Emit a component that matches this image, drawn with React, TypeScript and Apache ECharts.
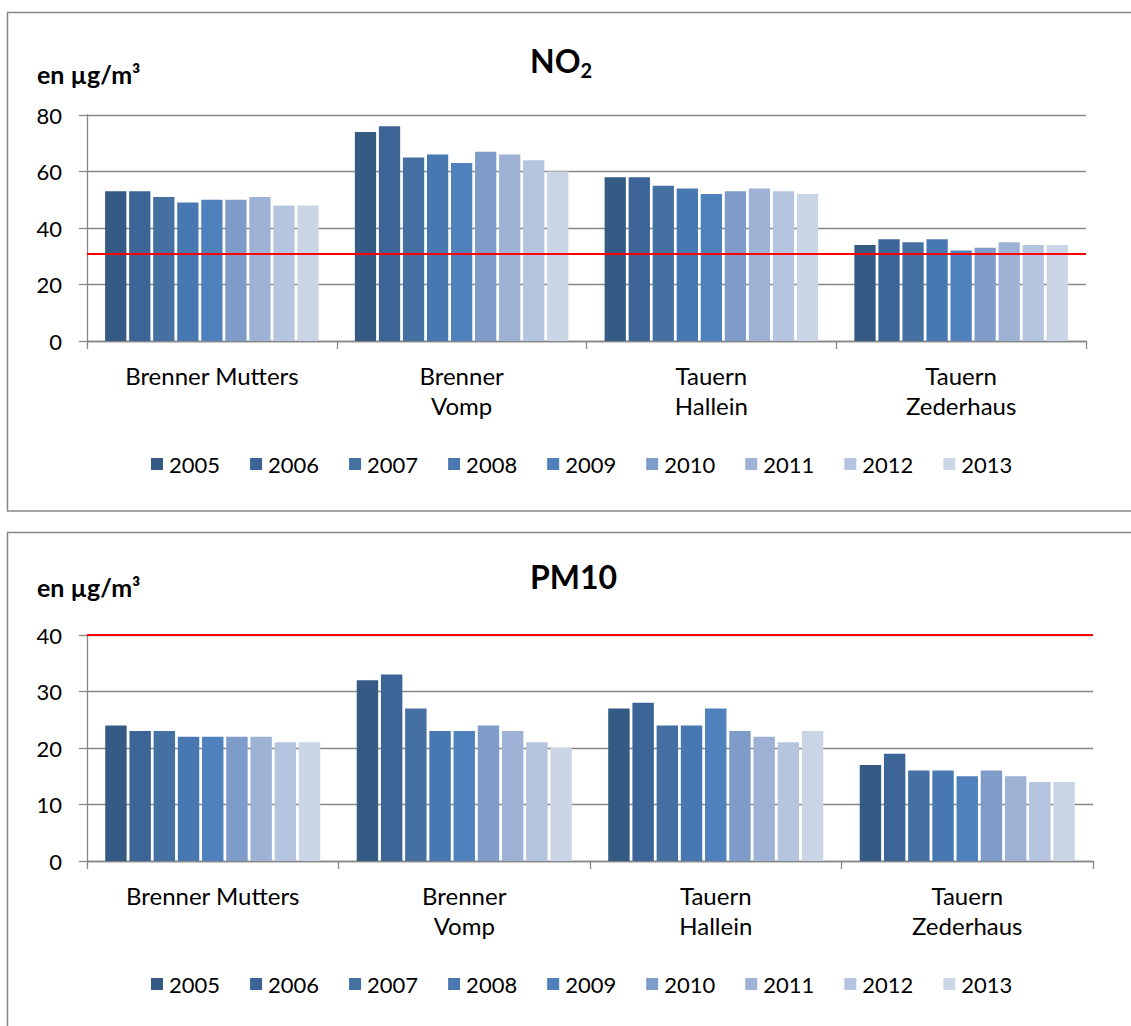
import React, { useEffect, useRef } from "react";
import * as echarts from "echarts";

const categories = ["Brenner Mutters", "Brenner\nVomp", "Tauern\nHallein", "Tauern\nZederhaus"];
const years = ["2005", "2006", "2007", "2008", "2009", "2010", "2011", "2012", "2013"];
const yearColors = ["#355A84", "#3C6496", "#4470A2", "#4878B2", "#4F81BD", "#7F9CC8", "#9DB2D4", "#B5C4DF", "#CAD5E6"];

// NO2 values per category, one value per year (2005..2013)
const no2BrennerMutters = [53, 53, 51, 49, 50, 50, 51, 48, 48];
const no2BrennerVomp = [74, 76, 65, 66, 63, 67, 66, 64, 60];
const no2TauernHallein = [58, 58, 55, 54, 52, 53, 54, 53, 52];
const no2TauernZederhaus = [34, 36, 35, 36, 32, 33, 35, 34, 34];

// PM10 values per category, one value per year (2005..2013)
const pm10BrennerMutters = [24, 23, 23, 22, 22, 22, 22, 21, 21];
const pm10BrennerVomp = [32, 33, 27, 23, 23, 24, 23, 21, 20];
const pm10TauernHallein = [27, 28, 24, 24, 27, 23, 22, 21, 23];
const pm10TauernZederhaus = [17, 19, 16, 16, 15, 16, 15, 14, 14];

const no2Limit = 31;
const pm10Limit = 40;
const no2Ticks = { min: 0, max: 80, interval: 20 };
const pm10Ticks = { min: 0, max: 40, interval: 10 };

const FONT = "Lato, 'Open Sans', sans-serif";
const GRAY = "#868686";

export default function App() {
  const ref = useRef<HTMLDivElement>(null);
  useEffect(() => {
    if (!ref.current) return;
    const chart = echarts.init(ref.current, undefined, { renderer: "svg" });
    const no2Rows = [no2BrennerMutters, no2BrennerVomp, no2TauernHallein, no2TauernZederhaus];
    const pm10Rows = [pm10BrennerMutters, pm10BrennerVomp, pm10TauernHallein, pm10TauernZederhaus];

    const makeX = (gridIndex: number) => ({
      type: "category",
      gridIndex,
      data: categories,
      axisLine: { show: true, lineStyle: { color: GRAY, width: 1.3 } },
      axisTick: { show: true, length: 8, lineStyle: { color: GRAY, width: 1.3 } },
      axisLabel: { color: "#000", fontSize: 24, fontFamily: FONT, margin: 19, lineHeight: 30, interval: 0 },
    });
    const makeY = (gridIndex: number, t: { min: number; max: number; interval: number }) => ({
      type: "value",
      gridIndex,
      min: t.min,
      max: t.max,
      interval: t.interval,
      axisLine: { show: true, lineStyle: { color: GRAY, width: 1.3 } },
      axisTick: { show: true, length: 8, lineStyle: { color: GRAY, width: 1.3 } },
      axisLabel: { color: "#000", fontSize: 22, fontFamily: FONT, margin: 25 },
      splitLine: { show: true, lineStyle: { color: GRAY, width: 1.3 } },
    });

    const series: any[] = [];
    years.forEach((y, i) => {
      series.push({
        name: y,
        type: "bar",
        xAxisIndex: 0,
        yAxisIndex: 0,
        data: no2Rows.map((r) => r[i]),
        itemStyle: { color: yearColors[i] },
        barGap: "13%",
        barCategoryGap: "14.5%",
        markLine: i === 0 ? {
          silent: true,
          symbol: "none",
          label: { show: false },
          lineStyle: { color: "#FF0000", width: 2, type: "solid" },
          data: [{ yAxis: no2Limit }],
        } : undefined,
      });
    });
    years.forEach((y, i) => {
      series.push({
        name: y,
        type: "bar",
        xAxisIndex: 1,
        yAxisIndex: 1,
        data: pm10Rows.map((r) => r[i]),
        itemStyle: { color: yearColors[i] },
        barGap: "13%",
        barCategoryGap: "14.5%",
        markLine: i === 0 ? {
          silent: true,
          symbol: "none",
          label: { show: false },
          lineStyle: { color: "#FF0000", width: 2, type: "solid" },
          data: [{ yAxis: pm10Limit }],
        } : undefined,
      });
    });

    const legendCommon = {
      data: years,
      icon: "rect",
      itemWidth: 12,
      itemHeight: 12,
      itemGap: 30,
      padding: 0,
      textStyle: { color: "#000", fontSize: 22, fontFamily: FONT, padding: [0, 0, 0, 1] },
      selectedMode: false,
    };

    chart.setOption({
      animation: false,
      backgroundColor: "#fff",
      grid: [
        { left: 87, top: 115, width: 999, height: 226 },
        { left: 87, top: 635, width: 1006, height: 226 },
      ],
      xAxis: [makeX(0), makeX(1)],
      yAxis: [makeY(0, no2Ticks), makeY(1, pm10Ticks)],
      legend: [
        { ...legendCommon, left: 151, top: 453 },
        { ...legendCommon, left: 151, top: 973 },
      ],
      title: [
        {
          text: "{a|NO}{b|2}",
          left: 530,
          top: 40,
          padding: 0,
          textStyle: {
            rich: {
              a: { fontSize: 32, fontWeight: "bold", fontFamily: FONT, color: "#000" },
              b: { fontSize: 20, fontWeight: "bold", fontFamily: FONT, color: "#000", padding: [20, 0, 0, 0] },
            },
          },
        },
        {
          text: "PM10",
          left: 530,
          top: 560,
          padding: 0,
          textStyle: { fontSize: 32, fontWeight: "bold", fontFamily: FONT, color: "#000" },
        },
        {
          text: "en µg/m³",
          left: 37,
          top: 61,
          padding: 0,
          textStyle: { fontSize: 25, fontWeight: "bold", fontFamily: FONT, color: "#000" },
        },
        {
          text: "en µg/m³",
          left: 37,
          top: 574,
          padding: 0,
          textStyle: { fontSize: 25, fontWeight: "bold", fontFamily: FONT, color: "#000" },
        },
      ],
      graphic: [
        {
          type: "rect",
          shape: { x: 7.5, y: 12.5, width: 1140, height: 498.5 },
          style: { fill: "none", stroke: GRAY, lineWidth: 1.5 },
          silent: true,
          z: -1,
        },
        {
          type: "rect",
          shape: { x: 7.5, y: 532.5, width: 1140, height: 600 },
          style: { fill: "none", stroke: GRAY, lineWidth: 1.5 },
          silent: true,
          z: -1,
        },
      ],
      series,
    });
    return () => chart.dispose();
  }, []);
  return (
    <div
      ref={ref}
      style={{ position: "absolute", left: 0, top: 0, width: 1131, height: 1026, background: "#fff" }}
    />
  );
}
